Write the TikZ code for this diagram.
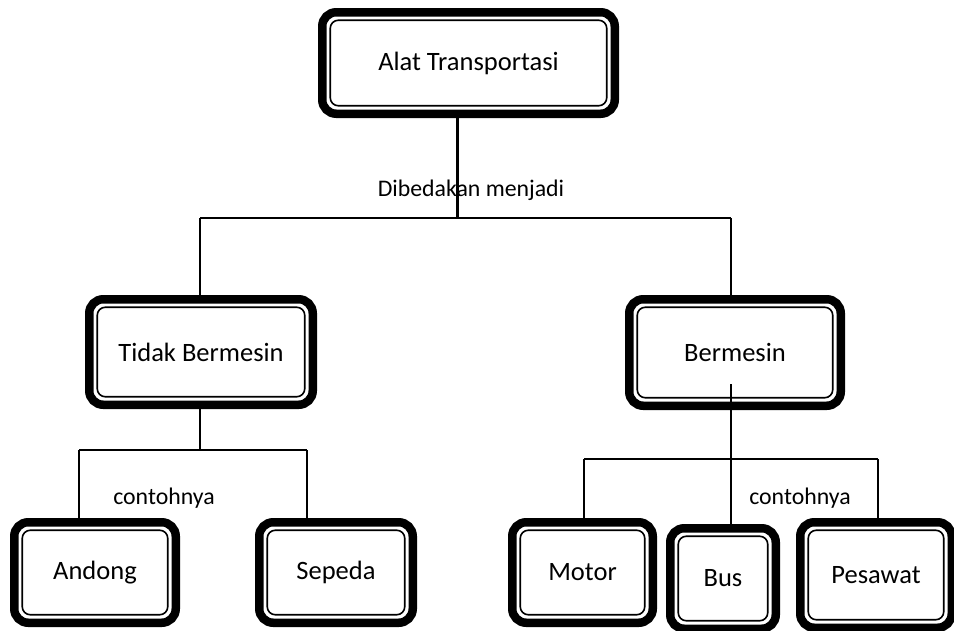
\documentclass[tikz,border=0pt]{standalone}
\usepackage{fontspec}
\setmainfont{Carlito}
\usetikzlibrary{calc}

\tikzset{
  tbox/.style={draw=black, line width=8.5pt, rounded corners=14pt,
    inner sep=0pt, outer sep=0pt, align=center,
    font=\fontsize{26.5}{30}\selectfont},
  tinner/.style={draw=black, line width=1.6pt, rounded corners=8pt},
  link/.style={draw=black, line width=1.6pt},
  mainlink/.style={draw=black, line width=3pt},
  lbl/.style={inner sep=0pt, font=\fontsize{23.8}{28}\selectfont}
}

% thin inner outline of a box
\newcommand{\innerline}[1]{%
  \draw[tinner] ($(#1.south west)+(8,-8)$) rectangle ($(#1.north east)+(-8,8)$);}

\begin{document}
\begin{tikzpicture}[x=1pt,y=-1pt]
\useasboundingbox (0,0) rectangle (954,630);

% boxes
\node[tbox, minimum width=292.5, minimum height=101.5] (top) at (468.5,63) {Alat Transportasi};
\node[tbox, minimum width=223.5, minimum height=105.5] (tidak) at (201,352) {Tidak Bermesin};
\node[tbox, minimum width=211.5, minimum height=106.5] (bermesin) at (735,352.5) {Bermesin};
\node[tbox, minimum width=161.5, minimum height=100.5] (andong) at (95,572.5) {Andong};
\node[tbox, minimum width=153.5, minimum height=100.5] (sepeda) at (336,572.5) {Sepeda};
\node[tbox, minimum width=140.5, minimum height=100.5] (motor) at (582.5,572.5) {Motor};
\node[tbox, minimum width=105.5, minimum height=100.5] (bus) at (723,578.5) {Bus};
\node[tbox, minimum width=151.5, minimum height=105.5] (pesawat) at (876,575) {Pesawat};

\foreach \n in {top,tidak,bermesin,andong,sepeda,motor,bus,pesawat}{\innerline{\n}}

% labels
\node[lbl] (lbl1) at (471,190) {Dibedakan menjadi};
\node[lbl] (lbl2) at (164,498) {contohnya};
\node[lbl] (lbl3) at (800,498) {contohnya};

% junction points
\coordinate (j1) at (457,218);
\coordinate (l1) at (200,218);
\coordinate (r1) at (731,218);
\coordinate (j2) at (200,450);
\coordinate (a1) at (79,450);
\coordinate (s1) at (307,450);
\coordinate (b0) at (731,384);
\coordinate (j3) at (731,459);
\coordinate (m1) at (584,459);
\coordinate (p1) at (878,459);

% first level
\draw[mainlink] (top.south -| j1) -- (j1);
\draw[link] (l1) -- (r1);
\draw[link] (l1) -- (tidak.north -| l1);
\draw[link] (r1) -- (bermesin.north -| r1);

% non-motorised branch
\draw[link] (tidak.south -| j2) -- (j2);
\draw[link] (a1) -- (s1);
\draw[link] (a1) -- (andong.north -| a1);
\draw[link] (s1) -- (sepeda.north -| s1);

% motorised branch
\draw[link] (b0) -- (j3) -- (bus.north -| j3);
\draw[link] (m1) -- (p1);
\draw[link] (m1) -- (motor.north -| m1);
\draw[link] (p1) -- (pesawat.north -| p1);
\end{tikzpicture}
\end{document}
